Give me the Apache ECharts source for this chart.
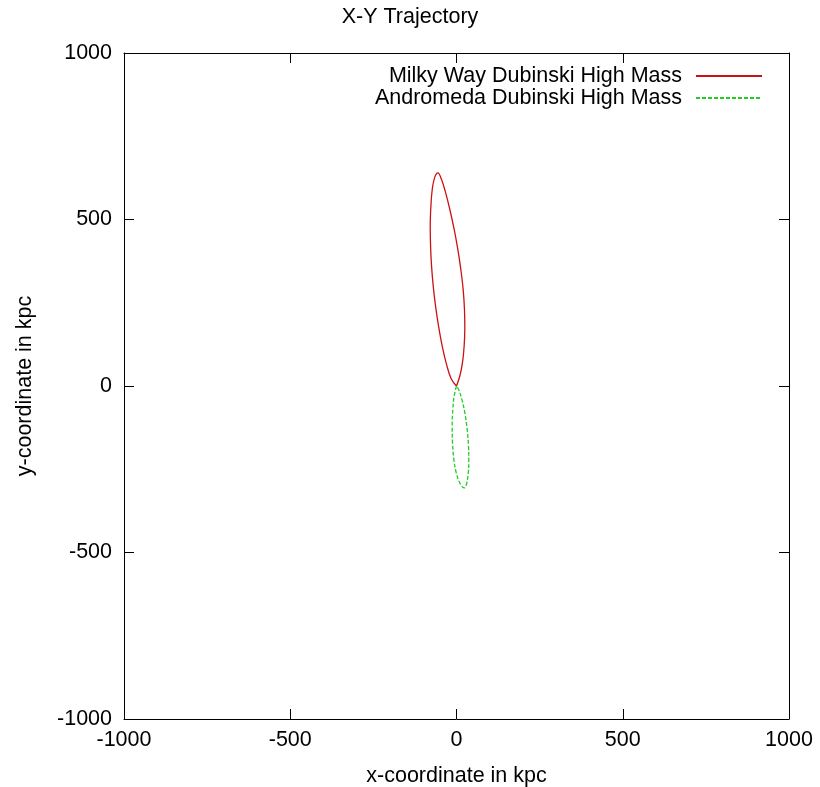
<!DOCTYPE html>
<html>
<head>
<meta charset="utf-8">
<script src="https://cdn.jsdelivr.net/npm/echarts@6/dist/echarts.min.js"></script>
<style>html,body{margin:0;padding:0;background:#fff}#c{width:820px;height:787px}</style>
</head>
<body>
<div id="c"></div>
<script>
var titleText = 'X-Y Trajectory';
var xName = 'x-coordinate in kpc';
var yName = 'y-coordinate in kpc';
var seriesNames = ['Milky Way Dubinski High Mass', 'Andromeda Dubinski High Mass'];
var axisMin = -1000, axisMax = 1000, axisStep = 500;

// Milky Way trajectory (x, y) in kpc
var milkyWay = [
  [0, 0], [10, 30], [18, 70], [23, 120], [25, 175], [24, 230], [20, 290], [13, 350],
  [4, 410], [-7, 470], [-20, 530], [-34, 585], [-45, 620], [-56, 640], [-66, 625],
  [-73, 590], [-77, 540], [-79, 480], [-78, 420], [-75, 360], [-70, 300], [-63, 240],
  [-54, 180], [-43, 120], [-30, 65], [-16, 22], [0, 0]
];
// Andromeda trajectory (x, y) in kpc
var andromeda = [
  [0, 0], [-7, -30], [-11, -70], [-13, -120], [-12, -170], [-8, -220], [-1, -260],
  [8, -287], [17, -302], [24, -306], [30, -295], [35, -265], [37, -225], [36, -180],
  [32, -130], [25, -80], [16, -40], [7, -12], [0, 0]
];

var FONT = 'Liberation Sans, Arial, sans-serif';
var FS = 21.5;
var chart = echarts.init(document.getElementById('c'), null, {renderer: 'canvas'});
function axisCommon(show) {
  return {
    type: 'value', min: axisMin, max: axisMax, interval: axisStep,
    axisLine: {show: true, onZero: false, lineStyle: {color: '#000', width: 1}},
    axisTick: {show: true, inside: true, length: 10, lineStyle: {color: '#000', width: 1}},
    splitLine: {show: false},
    axisLabel: {show: show, color: '#000', fontSize: FS, fontFamily: FONT,
      formatter: function (v) { return String(v); }}
  };
}
var xBottom = axisCommon(true);
xBottom.position = 'bottom';
xBottom.name = xName; xBottom.nameLocation = 'middle'; xBottom.nameGap = 46;
xBottom.nameTextStyle = {color: '#000', fontSize: FS, fontFamily: FONT};
xBottom.axisLabel.margin = 10;
var xTop = axisCommon(false); xTop.position = 'top';
var yLeft = axisCommon(true);
yLeft.position = 'left';
yLeft.name = yName; yLeft.nameLocation = 'middle'; yLeft.nameGap = 88;
yLeft.nameTextStyle = {color: '#000', fontSize: FS, fontFamily: FONT};
yLeft.axisLabel.margin = 12;
var yRight = axisCommon(false); yRight.position = 'right';

chart.setOption({
  animation: false,
  backgroundColor: '#fff',
  title: {text: titleText, left: 'center', top: 1,
    textStyle: {color: '#000', fontSize: FS, fontWeight: 'normal', fontFamily: FONT}},
  grid: {left: 124, right: 31, top: 53, bottom: 68, containLabel: false, outerBoundsMode: 'none'},
  legend: {
    orient: 'vertical', right: 52, top: 60, align: 'right',
    itemWidth: 66, itemHeight: 12, itemGap: 0,
    itemStyle: {opacity: 0},
    textStyle: {color: '#000', fontSize: FS, fontFamily: FONT, padding: [0, 9, 0, 0]},
    data: seriesNames
  },
  xAxis: [xBottom, xTop],
  yAxis: [yLeft, yRight],
  series: [
    {name: seriesNames[0], type: 'line', data: milkyWay, showSymbol: false, symbol: 'none',
     smooth: 0.4, lineStyle: {color: '#cc1111', width: 1.3}, itemStyle: {color: '#cc1111'}},
    {name: seriesNames[1], type: 'line', data: andromeda, showSymbol: false, symbol: 'none',
     smooth: 0.4, lineStyle: {color: '#22cc22', width: 1.3, type: [4, 2]}, itemStyle: {color: '#22cc22'}}
  ]
});
</script>
</body>
</html>
